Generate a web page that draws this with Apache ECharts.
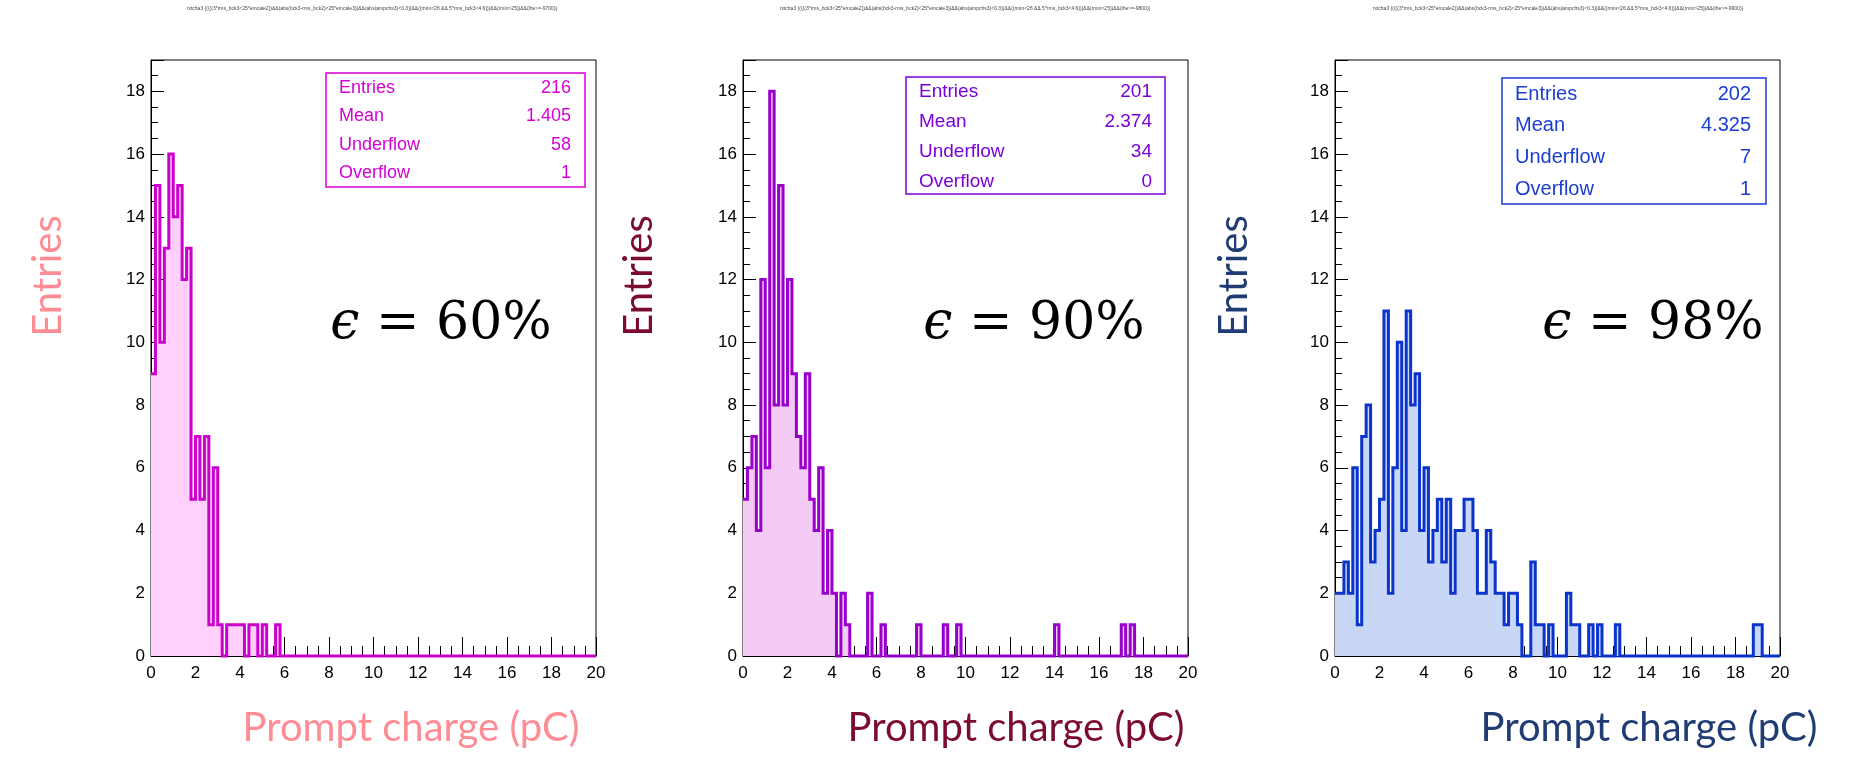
<!DOCTYPE html>
<html>
<head>
<meta charset="utf-8">
<title>Prompt charge distributions</title>
<script src="https://cdn.jsdelivr.net/npm/echarts@6/dist/echarts.min.js"></script>
<style>
  html, body { margin: 0; padding: 0; background: #ffffff; }
  #chart { width: 1859px; height: 762px; }
</style>
</head>
<body>
<div id="chart"></div>
<script>
// Histogram binning: 100 bins of 0.2 pC between 0 and 20 pC
const binWidth = 0.2;
const xMin = 0;
const xMax = 20;

// Bin contents, one value per 0.2 pC bin
const countsEff60 = [
  9, 15, 10, 13, 16, 14, 15, 12, 13, 5,
  7, 5, 7, 1, 6, 1, 0, 1, 1, 1,
  1, 0, 1, 1, 0, 1, 0, 0, 1, 0,
  0, 0, 0, 0, 0, 0, 0, 0, 0, 0,
  0, 0, 0, 0, 0, 0, 0, 0, 0, 0,
  0, 0, 0, 0, 0, 0, 0, 0, 0, 0,
  0, 0, 0, 0, 0, 0, 0, 0, 0, 0,
  0, 0, 0, 0, 0, 0, 0, 0, 0, 0,
  0, 0, 0, 0, 0, 0, 0, 0, 0, 0,
  0, 0, 0, 0, 0, 0, 0, 0, 0, 0
];
const countsEff90 = [
  5, 6, 7, 4, 12, 6, 18, 8, 15, 8,
  12, 9, 7, 6, 9, 5, 4, 6, 2, 4,
  2, 0, 2, 1, 0, 0, 0, 0, 2, 0,
  0, 1, 0, 0, 0, 0, 0, 0, 0, 1,
  0, 0, 0, 0, 0, 1, 0, 0, 1, 0,
  0, 0, 0, 0, 0, 0, 0, 0, 0, 0,
  0, 0, 0, 0, 0, 0, 0, 0, 0, 0,
  1, 0, 0, 0, 0, 0, 0, 0, 0, 0,
  0, 0, 0, 0, 0, 1, 0, 1, 0, 0,
  0, 0, 0, 0, 0, 0, 0, 0, 0, 0
];
const countsEff98 = [
  2, 2, 3, 2, 6, 1, 7, 8, 3, 4,
  5, 11, 2, 6, 10, 4, 11, 8, 9, 4,
  6, 3, 4, 5, 3, 5, 2, 4, 4, 5,
  5, 4, 2, 2, 4, 3, 2, 2, 1, 2,
  2, 1, 0, 0, 3, 1, 1, 0, 1, 0,
  0, 0, 2, 1, 1, 0, 0, 1, 0, 1,
  0, 0, 0, 1, 0, 0, 0, 0, 0, 0,
  0, 0, 0, 0, 0, 0, 0, 0, 0, 0,
  0, 0, 0, 0, 0, 0, 0, 0, 0, 0,
  0, 0, 0, 0, 1, 1, 0, 0, 0, 0
];

// Statistics box contents
const statNames = ['Entries', 'Mean', 'Underflow', 'Overflow'];
const statsEff60 = ['216', '1.405', '58', '1'];
const statsEff90 = ['201', '2.374', '34', '0'];
const statsEff98 = ['202', '4.325', '7', '1'];

// Efficiency annotations
const efficiencyLabels = ['\u03F5 = 60%', '\u03F5 = 90%', '\u03F5 = 98%'];

// Selection strings printed above each pad
const cutTitles = [
  'rxtcha3 {((((3*rms_bck3<25*emcale2))&&(abs(bck3-rms_bck2)<25*emcale3))&&(abs(ampchs3)<0.3))&&((rmin<26 && 5*rms_bck3<4.6)))&&(rmin>25))&&(lhe>=-9700)}',
  'rxtcha3 {((((3*rms_bck3<25*emcale2))&&(abs(bck3-rms_bck2)<25*emcale3))&&(abs(ampchs3)<0.3))&&((rmin<26 && 5*rms_bck3<4.6)))&&(rmin>25))&&(lhe>=-9800)}',
  'rxtcha3 {((((3*rms_bck3<25*emcale2))&&(abs(bck3-rms_bck2)<25*emcale3))&&(abs(ampchs3)<0.3))&&((rmin<26 && 5*rms_bck3<4.6)))&&(rmin>25))&&(lhe>=-9900)}'
];

const xTitle = 'Prompt charge (pC)';
const yTitle = 'Entries';

// Pad geometry and colours
const pads = [
  {
    counts: countsEff60, stats: statsEff60,
    left: 151, top: 60, width: 445, height: 596,
    line: '#cc00cc', fill: '#ffd0fc', statColor: '#d500d5', titleColor: '#ff8c95',
    box: { x: 326, y: 73, w: 259, h: 114, font: 18, row0: 88, gap: 28.4, tl: 339, tr: 571 },
    eps: { x: 441, y: 324 }, yt: { x: 48, y: 276 }, xt: { x: 411, y: 728 }, cut: { x: 372, y: 9 }
  },
  {
    counts: countsEff90, stats: statsEff90,
    left: 743, top: 60, width: 445, height: 596,
    line: '#9900cc', fill: '#f3cbf5', statColor: '#7a00d8', titleColor: '#7c0b30',
    box: { x: 906, y: 77, w: 259, h: 117, font: 19, row0: 92, gap: 29.8, tl: 919, tr: 1152 },
    eps: { x: 1034, y: 324 }, yt: { x: 639, y: 276 }, xt: { x: 1016, y: 728 }, cut: { x: 965, y: 9 }
  },
  {
    counts: countsEff98, stats: statsEff98,
    left: 1335, top: 60, width: 445, height: 596,
    line: '#0a34cc', fill: '#c9d7f7', statColor: '#1a3dd2', titleColor: '#203c74',
    box: { x: 1502, y: 78, w: 264, h: 126, font: 20, row0: 94, gap: 31.7, tl: 1515, tr: 1751 },
    eps: { x: 1653, y: 324 }, yt: { x: 1234, y: 276 }, xt: { x: 1649, y: 728 }, cut: { x: 1558, y: 9 }
  }
];

// Step outline points: left edge of every bin, plus the closing right edge
function stepPoints(counts) {
  const pts = counts.map((c, i) => [+(xMin + i * binWidth).toFixed(4), c]);
  pts.push([xMax, counts[counts.length - 1]]);
  return pts;
}

const axisFont = 'Liberation Sans';
const mathFont = 'DejaVu Serif';
const grids = [], xAxes = [], yAxes = [], series = [], graphics = [];

pads.forEach((p, i) => {
  grids.push({
    left: p.left, top: p.top, width: p.width, height: p.height,
    show: true, borderColor: '#000', borderWidth: 1, backgroundColor: 'transparent',
    containLabel: false, outerBoundsMode: 'none'
  });
  xAxes.push({
    gridIndex: i, type: 'value', min: xMin, max: xMax, interval: 2,
    axisLine: { show: true, onZero: false, lineStyle: { color: '#000', width: 1 } },
    axisTick: { show: true, inside: true, length: 19, lineStyle: { color: '#000', width: 1 } },
    minorTick: { show: true, splitNumber: 4, length: 10, lineStyle: { color: '#000', width: 1 } },
    axisLabel: { color: '#000', fontSize: 17, fontFamily: axisFont, margin: 9 },
    splitLine: { show: false }, minorSplitLine: { show: false }
  });
  yAxes.push({
    gridIndex: i, type: 'value', min: 0, max: 19, interval: 2,
    axisLine: { show: true, onZero: false, lineStyle: { color: '#000', width: 1 } },
    axisTick: { show: true, inside: true, length: 13, lineStyle: { color: '#000', width: 1 } },
    minorTick: { show: true, splitNumber: 4, length: 7, lineStyle: { color: '#000', width: 1 } },
    axisLabel: { color: '#000', fontSize: 17, fontFamily: axisFont, margin: 6, showMaxLabel: false },
    splitLine: { show: false }, minorSplitLine: { show: false }
  });
  series.push({
    type: 'line', xAxisIndex: i, yAxisIndex: i,
    step: 'end', symbol: 'none', clip: false, silent: true,
    data: stepPoints(p.counts),
    lineStyle: { color: p.line, width: 3, join: 'miter' },
    areaStyle: { color: p.fill, opacity: 1 },
    itemStyle: { color: p.line },
    z: 3
  });

  // Cut string above the pad
  graphics.push({
    type: 'text', x: p.cut.x, y: p.cut.y, silent: true,
    style: { text: cutTitles[i], fill: '#444', font: '5px "Liberation Sans"', align: 'center', verticalAlign: 'middle' }
  });

  // Statistics box
  graphics.push({
    type: 'rect', silent: true, z: 10,
    shape: { x: p.box.x, y: p.box.y, width: p.box.w, height: p.box.h },
    style: { fill: '#ffffff', stroke: p.statColor, lineWidth: 1.5 }
  });
  statNames.forEach((name, r) => {
    const y = p.box.row0 + r * p.box.gap;
    graphics.push({
      type: 'text', x: p.box.tl, y: y, silent: true, z: 11,
      style: { text: name, fill: p.statColor, font: p.box.font + 'px "Liberation Sans"', align: 'left', verticalAlign: 'middle' }
    });
    graphics.push({
      type: 'text', x: p.box.tr, y: y, silent: true, z: 11,
      style: { text: p.stats[r], fill: p.statColor, font: p.box.font + 'px "Liberation Sans"', align: 'right', verticalAlign: 'middle' }
    });
  });

  // Efficiency annotation, with a slanted epsilon
  graphics.push({
    type: 'text', x: p.eps.x, y: p.eps.y, silent: true, z: 11,
    style: {
      text: efficiencyLabels[i].replace('\u03F5', '{e|\u03F5}'),
      fill: '#000', fontFamily: mathFont, fontSize: 52,
      align: 'center', verticalAlign: 'middle',
      rich: { e: { fontFamily: mathFont, fontSize: 52, fontStyle: 'italic', fill: '#000' } }
    }
  });

  // Axis titles
  graphics.push({
    type: 'text', x: p.yt.x, y: p.yt.y, rotation: Math.PI / 2, silent: true,
    style: { text: yTitle, fill: p.titleColor, font: '40px Lato', align: 'center', verticalAlign: 'middle' }
  });
  graphics.push({
    type: 'text', x: p.xt.x, y: p.xt.y, silent: true,
    style: { text: xTitle, fill: p.titleColor, font: '40px Lato', align: 'center', verticalAlign: 'middle' }
  });
});

const chart = echarts.init(document.getElementById('chart'), null, { renderer: 'canvas' });
chart.setOption({
  animation: false,
  backgroundColor: '#ffffff',
  grid: grids,
  xAxis: xAxes,
  yAxis: yAxes,
  series: series,
  graphic: graphics
});
</script>
</body>
</html>
